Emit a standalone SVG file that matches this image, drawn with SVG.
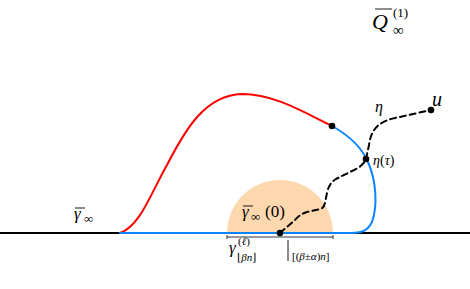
<svg xmlns="http://www.w3.org/2000/svg" width="470" height="289" viewBox="0 0 470 289">
<style>
.t{font-family:"Liberation Serif","DejaVu Serif",serif;fill:#000}
.i{font-style:italic}
.c{fill:none;stroke-width:2;stroke-linecap:round;stroke-linejoin:round}
.dot{fill:#000}
</style>
<rect width="470" height="289" fill="#fff"/>
<g id="disk"><path d="M227,233 A53,53 0 0 1 333,233 Z" fill="#fdd8ae"/></g>
<g id="connectors">
<line x1="0" y1="233" x2="470" y2="233" stroke="#000" stroke-width="2"/>
<path class="c" stroke="#ff0000" d="M120,233 C140,226 150,195 167,165 C185,130 205,95 242,94 C275,94 305,113 332,126"/>
<path class="c" stroke="#0a84ff" d="M332,126 C350,136 362,148 368,162 C376,180 378,205 372,222 C367,232 360,233 350,233 L120,233"/>
<path class="c" stroke="#000" stroke-dasharray="6,4" stroke-linecap="butt" d="M280,233 L295,220 Q300,214 307,212 L320,209 Q324,208 325,203 L327,193 Q329,183 336,179 L358,168 Q364,164 366,159 L369,145 Q371,130 380,124 Q386,120 395,118 L431,110"/>
<g stroke="#333" stroke-width="1"><line x1="227" y1="237" x2="333" y2="237"/><line x1="227" y1="235" x2="227" y2="239"/><line x1="333" y1="235" x2="333" y2="239"/></g>
</g>
<g id="points">
<circle class="dot" cx="332" cy="126" r="3.3"/>
<circle class="dot" cx="366" cy="159" r="3.3"/>
<circle class="dot" cx="431" cy="110" r="3.3"/>
<circle class="dot" cx="280" cy="233" r="3.3"/>
</g>
<g id="labels">
<text class="t i" x="375" y="112" font-size="16">η</text>
<text class="t i" x="432" y="106" font-size="20">u</text>
<text class="t" x="373" y="165" font-size="14"><tspan class="i">η</tspan>(<tspan class="i">τ</tspan>)</text>
<g id="gamma0"><line x1="243" y1="206" x2="253" y2="206" stroke="#000" stroke-width="0.9"/><text class="t i" x="242" y="217" font-size="17">γ</text><text class="t" x="251" y="221" font-size="13">∞</text><text class="t" x="265" y="217" font-size="17">(0)</text></g>
<g id="gammainf"><line x1="75" y1="208" x2="85" y2="208" stroke="#000" stroke-width="0.9"/><text class="t i" x="74" y="219" font-size="17">γ</text><text class="t" x="84" y="223" font-size="13">∞</text></g>
<g id="Q"><line x1="375" y1="9" x2="392" y2="9" stroke="#000" stroke-width="0.9"/><text class="t i" x="372" y="29" font-size="22">Q</text><text class="t" x="393" y="17" font-size="13">(1)</text><text class="t" x="393" y="35" font-size="15">∞</text></g>
<g id="restr"><text class="t i" x="229" y="253" font-size="17">γ</text><text class="t" x="238" y="245" font-size="11">(<tspan class="i">ℓ</tspan>)</text><text class="t" x="237" y="261" font-size="11">⌊<tspan class="i">βn</tspan>⌋</text><line x1="288" y1="240" x2="288" y2="261" stroke="#000" stroke-width="0.9"/><text class="t" x="292" y="260" font-size="11">[(<tspan class="i">β</tspan>±<tspan class="i">α</tspan>)<tspan class="i">n</tspan>]</text></g>
</g>
</svg>
